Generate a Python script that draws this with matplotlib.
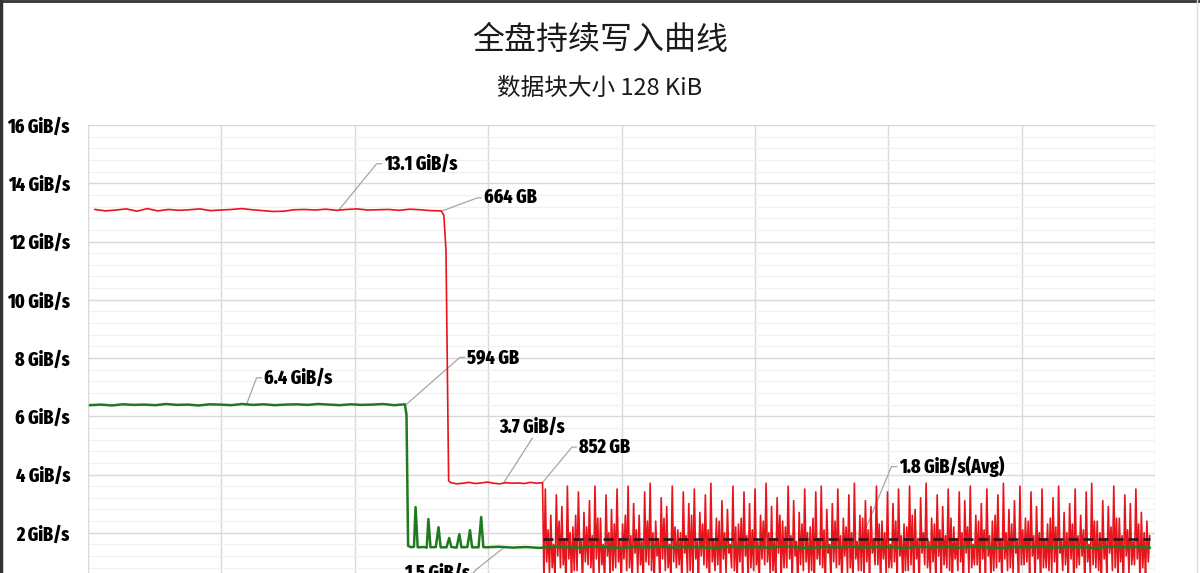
"""
Full-disk sustained write curve (128 KiB blocks)
"""
import numpy as np
import matplotlib
matplotlib.use('Agg')
import matplotlib.pyplot as plt
from matplotlib import font_manager as fm
from matplotlib.lines import Line2D
from matplotlib.ticker import MultipleLocator

# ---- data (GB written vs GiB/s) ----
title = '全盘持续写入曲线'
subtitle = '数据块大小 128 KiB'
y_ticks = [2, 4, 6, 8, 10, 12, 14, 16]
y_tick_labels = ['2 GiB/s', '4 GiB/s', '6 GiB/s', '8 GiB/s',
                 '10 GiB/s', '12 GiB/s', '14 GiB/s', '16 GiB/s']

red_head = [13.10, 13.05, 13.08, 13.12, 13.04, 13.13, 13.05, 13.10, 13.07, 13.09,
            13.12, 13.06, 13.08, 13.10, 13.13, 13.09, 13.06, 13.03, 13.04, 13.09,
            13.10, 13.08, 13.11, 13.07, 13.10, 13.12, 13.08, 13.09, 13.10, 13.07,
            13.11, 13.09, 13.06, 13.05]
red_head_range = (13, 662)
red_drop_gb = [667, 671, 676]
red_drop = [12.90, 11.70, 3.78]
red_mid = [3.72, 3.68, 3.70, 3.73, 3.69, 3.71, 3.74, 3.70, 3.68, 3.72,
           3.70, 3.71, 3.69, 3.73, 3.70, 3.72]
red_mid_range = (680, 852)
red_tail_peaks = [3.5, 2.6, 3.3, 2.9, 3.6, 2.2, 3.4, 2.7, 3.1, 3.6, 2.5, 3.3, 2.8, 3.5,
                  2.3, 3.6, 3.0, 2.6, 3.4, 3.7, 2.4, 3.2, 2.9, 3.6, 2.1, 3.4, 3.0, 3.5,
                  2.7, 3.3, 3.7, 2.5, 3.1, 2.8, 3.6, 2.3, 3.4, 3.0, 3.5, 2.6, 3.7, 2.9,
                  3.2, 2.4, 3.6, 3.1, 2.7, 3.5, 2.2, 3.4, 3.6, 2.8, 3.0, 3.5, 2.5, 3.3,
                  3.7, 2.6, 3.1, 2.9, 3.6, 2.4, 3.4, 3.0, 3.5, 2.3, 3.6, 2.8, 3.2, 3.7,
                  2.5, 3.3, 2.9, 3.5, 2.2, 3.4, 3.1, 3.6, 2.6, 3.0, 3.5, 2.4, 3.3, 3.7,
                  2.8, 3.1, 3.6, 2.5, 3.4, 2.9, 3.5, 2.3, 3.2, 3.6, 2.7, 3.0, 3.5, 2.6,
                  3.4, 3.7, 2.4, 3.1, 2.9, 3.6, 2.5, 3.3, 3.0, 3.5, 2.7, 2.4]
red_tail_sub = [2.1, 1.6, 2.4, 1.8, 2.0, 2.6, 1.7, 2.2, 1.9, 2.5, 1.6, 2.0, 2.3, 1.8,
                2.6, 1.9, 2.1, 1.7, 2.4, 2.0, 1.8, 2.5, 1.6, 2.2, 2.0, 1.9, 2.6, 1.7,
                2.3, 2.1, 1.8, 2.4, 2.0, 1.6, 2.2, 2.5, 1.9, 2.1, 1.7, 2.4, 2.0, 1.8,
                2.6, 2.2, 1.9, 1.7, 2.3, 2.0, 2.5, 1.8, 2.1, 1.6, 2.4, 1.9, 2.2, 2.0,
                1.7, 2.5, 2.1, 1.8, 2.3, 2.0, 1.6, 2.4, 1.9, 2.2, 2.6, 1.8, 2.0, 1.7,
                2.3, 2.1, 1.9, 2.5, 1.8, 2.0, 2.2, 1.6, 2.4, 2.1, 1.9, 2.6, 1.8, 2.0,
                2.3, 1.7, 2.1, 2.4, 1.9, 2.0, 1.8, 2.5, 2.2, 1.7, 2.0, 2.3, 1.9, 2.1,
                1.6, 2.4, 2.0, 1.8, 2.2, 2.5, 1.9, 2.1, 1.7, 2.3, 2.0, 1.9]
red_tail_troughs = [0.3, 0.6, 0.4, 0.8, 0.2, 0.5, 0.7, 0.3, 0.9, 0.4, 0.6, 0.2, 0.5, 0.8,
                    0.3, 0.7, 0.4, 0.6, 0.2, 0.9, 0.5, 0.3, 0.7, 0.4, 0.8, 0.2, 0.6, 0.5,
                    0.3, 0.9, 0.4, 0.7, 0.2, 0.6, 0.8, 0.3, 0.5, 0.4, 0.7, 0.2, 0.9, 0.6,
                    0.3, 0.5, 0.8, 0.4, 0.2, 0.7, 0.6, 0.3, 0.9, 0.5, 0.4, 0.8, 0.2, 0.6,
                    0.3, 0.7, 0.5, 0.4, 0.9, 0.2, 0.6, 0.8, 0.3, 0.5, 0.7, 0.4, 0.2, 0.9,
                    0.6, 0.3, 0.5, 0.8, 0.4, 0.7, 0.2, 0.6, 0.9, 0.3, 0.5, 0.4, 0.8, 0.2,
                    0.7, 0.6, 0.3, 0.9, 0.5, 0.4, 0.2, 0.8, 0.6, 0.3, 0.7, 0.5, 0.4, 0.9,
                    0.2, 0.6, 0.8, 0.3, 0.5, 0.7, 0.4, 0.2, 0.6, 0.9, 0.3, 0.5]
red_tail_troughs2 = [1.0, 0.8, 1.2, 0.9, 1.1, 0.7, 1.3, 1.0, 0.8, 1.1, 0.9, 1.2, 0.7, 1.0,
                     1.1, 0.8, 1.3, 0.9, 1.0, 0.7, 1.2, 1.1, 0.8, 1.0, 0.9, 1.3, 0.7, 1.1,
                     1.2, 0.8, 1.0, 0.9, 1.1, 1.3, 0.7, 1.0, 1.2, 0.8, 0.9, 1.1, 1.0, 0.7,
                     1.3, 0.8, 1.1, 1.2, 0.9, 1.0, 0.7, 1.1, 0.8, 1.3, 1.0, 0.9, 1.2, 0.8,
                     1.1, 0.7, 1.0, 1.3, 0.9, 1.1, 0.8, 1.0, 1.2, 0.7, 0.9, 1.1, 1.3, 0.8,
                     1.0, 1.2, 0.9, 0.7, 1.1, 1.0, 1.3, 0.8, 0.9, 1.1, 1.2, 0.7, 1.0, 1.1,
                     0.8, 1.3, 0.9, 1.0, 1.2, 1.1, 0.8, 0.7, 1.0, 1.3, 0.9, 1.1, 0.8, 1.2,
                     1.0, 0.9, 0.7, 1.1, 1.3, 0.8, 1.0, 1.2, 0.9, 1.1, 0.8, 1.0]
red_tail_range = (852, 1990)
red_avg = 1.8

green_head = [6.38, 6.40, 6.37, 6.41, 6.39, 6.40, 6.38, 6.42, 6.39, 6.40,
              6.37, 6.41, 6.40, 6.38, 6.42, 6.39, 6.41, 6.38, 6.40, 6.41,
              6.39, 6.42, 6.40, 6.38, 6.41, 6.39, 6.40, 6.42, 6.38, 6.41]
green_head_range = (4, 594)
green_drop_gb = [597, 600, 606, 611, 614, 618, 630, 635, 638, 642, 652, 657, 661,
                 672, 677, 681, 691, 696, 700, 711, 716, 720, 732, 737, 741]
green_drop = [6.05, 1.55, 1.50, 1.52, 2.88, 1.50, 1.51, 1.49, 2.47, 1.50, 1.51, 2.19, 1.50,
              1.50, 1.82, 1.51, 1.49, 1.95, 1.50, 1.51, 2.09, 1.50, 1.50, 2.54, 1.51]
green_tail = [1.50, 1.52, 1.49, 1.51, 1.48, 1.52, 1.50, 1.49, 1.53, 1.50,
              1.48, 1.51, 1.50, 1.52, 1.49, 1.51, 1.50, 1.48, 1.52, 1.50,
              1.51, 1.49, 1.53, 1.50, 1.48, 1.51, 1.50, 1.52, 1.49, 1.51,
              1.50, 1.48, 1.52, 1.50, 1.51, 1.49, 1.52, 1.50, 1.48, 1.51,
              1.50, 1.52, 1.49, 1.51, 1.50, 1.48, 1.52, 1.50, 1.51, 1.49]
green_tail_range = (745, 1990)

# annotations: (text, point, elbow, text anchor, ha)
annotations = [
    ('13.1 GiB/s', (471, 13.10), (541, 14.67), (555, 14.67), 'left'),
    ('664 GB', (664, 13.05), (730, 13.50), (742, 13.50), 'left'),
    ('594 GB', (595, 6.38), (697, 8.02), (711, 8.02), 'left'),
    ('6.4 GiB/s', (297, 6.40), (316, 7.32), (330, 7.32), 'left'),
    ('852 GB', (851, 3.70), (907, 4.94), (920, 4.94), 'left'),
    ('1.8 GiB/s(Avg)', (1450, 1.80), (1506, 4.27), (1521, 4.27), 'left'),
    ('1.5 GiB/s', (780, 1.50), (728, 0.74), (716, 0.60), 'right'),
]
label_37 = ('3.7 GiB/s', (780, 3.74), (833, 5.25), (832, 5.62))

# ---- narrow heavy font for labels (Fira Sans ExtraCondensed if present) ----
def find_font(names):
    files = {f.fname.split('/')[-1]: f.fname for f in fm.fontManager.ttflist}
    for n in names:
        if n in files:
            return files[n]
    return None

lab_file = find_font(['FiraSansExtraCondensed-ExtraBold.ttf', 'FiraSansExtraCondensed-Bold.ttf',
                      'FiraSansCondensed-Bold.ttf', 'DejaVuSansCondensed-Bold.ttf'])
if lab_file:
    lab_font = dict(fontproperties=fm.FontProperties(fname=lab_file, size=14))
else:
    lab_font = dict(family='Liberation Sans', fontweight='bold', fontsize=11)

# ---- build series ----
red_x = np.concatenate([np.linspace(*red_head_range, len(red_head)), red_drop_gb,
                        np.linspace(*red_mid_range, len(red_mid))])
red_y = np.concatenate([red_head, red_drop, red_mid])
tail_y = np.column_stack([red_tail_troughs, red_tail_peaks,
                          red_tail_troughs2, red_tail_sub]).ravel()
tail_x = np.linspace(*red_tail_range, len(tail_y) + 1)[1:]
red_x = np.concatenate([red_x, tail_x])
red_y = np.concatenate([red_y, tail_y])

green_x = np.concatenate([np.linspace(*green_head_range, len(green_head)), green_drop_gb,
                          np.linspace(*green_tail_range, len(green_tail))])
green_y = np.concatenate([green_head, green_drop, green_tail])

# ---- plot ----
W, H = 1200, 573
fig = plt.figure(figsize=(W / 100, H / 100), dpi=100)
fig.patch.set_facecolor('white')
cjk = ['Noto Sans CJK SC', 'DejaVu Sans']

ax = fig.add_axes([88 / W, 1 - 591 / H, 1067 / W, 466 / H])
ax.xaxis.set_major_locator(MultipleLocator(250))
ax.set_yticks(y_ticks)
ax.set_yticklabels(y_tick_labels, **lab_font)
ax.yaxis.set_minor_locator(MultipleLocator(0.4))
ax.set_xlim(0, 2000)
ax.set_ylim(0, 16)
ax.grid(which='major', color='#d9d9d9', linewidth=1.0, zorder=0)
ax.grid(which='minor', axis='y', color='#f0f0f0', linewidth=0.8, zorder=0)
ax.set_axisbelow(True)
for s in ['top', 'right', 'bottom']:
    ax.spines[s].set_visible(False)
ax.spines['left'].set_color('#d9d9d9')
ax.tick_params(which='both', length=0)
ax.tick_params(axis='y', pad=13)
ax.tick_params(axis='x', labelbottom=False)

ax.plot(red_x, red_y, color='#e8141c', linewidth=1.2, zorder=3)
ax.plot(green_x, green_y, color='#1f7a1f', linewidth=1.8, zorder=4)
ax.plot([red_tail_range[0], red_tail_range[1]], [red_avg, red_avg], color='#1a1a1a',
        linewidth=1.8, linestyle=(0, (4, 2)), zorder=5)

for text, p, e, t, ha in annotations:
    ax.plot([p[0], e[0], t[0] + (-5 if ha == 'left' else 5)], [p[1], e[1], t[1]],
            color='#a6a6a6', linewidth=0.9, zorder=2, clip_on=False)
    ax.text(t[0], t[1], text, ha=ha, va='center', color='black', zorder=6,
            clip_on=False, **lab_font)
text, p, e, t = label_37
ax.plot([p[0], e[0]], [p[1], e[1]], color='#a6a6a6', linewidth=0.9, zorder=2)
ax.text(t[0], t[1], text, ha='center', va='center', color='black', zorder=6, **lab_font)

fig.text(0.5, 1 - 40 / H, title, ha='center', va='center', fontsize=23,
         family=cjk, color='#1a1a1a')
fig.text(0.5, 1 - 88 / H, subtitle, ha='center', va='center', fontsize=17,
         family=cjk, color='#1a1a1a')

# screenshot frame
fig.add_artist(Line2D([0, 1], [1 - 1 / H, 1 - 1 / H], color='#333333', linewidth=2))
fig.add_artist(Line2D([1 / W, 1 / W], [0, 1], color='#333333', linewidth=2.5))
fig.add_artist(Line2D([1197 / W, 1197 / W], [0, 1], color='#dddddd', linewidth=1))

fig.savefig('out.png', dpi=100, facecolor='white')
print('[OK] saved out.png')
